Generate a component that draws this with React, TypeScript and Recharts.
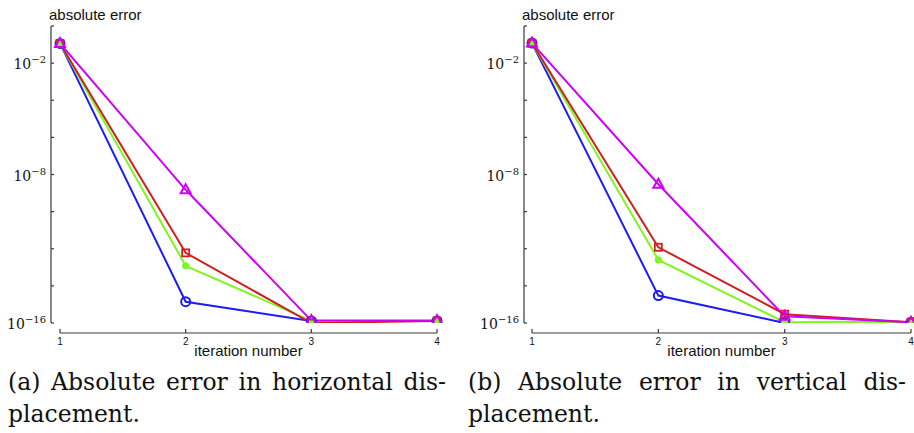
import React from "react";
import * as Recharts from "recharts";
import { LineChart, Line, XAxis, YAxis } from "recharts";

// iteration numbers on the x axis
const iterations = [1, 2, 3, 4];

// (a) horizontal displacement
const horizBlue = [1.15e-1, 1.4e-15, 1.3e-16, 1.3e-16];
const horizGreen = [1.15e-1, 1.2e-13, 1.3e-16, 1.3e-16];
const horizRed = [1.15e-1, 6e-13, 1.0e-16, 1.3e-16];
const horizMagenta = [1.15e-1, 1.5e-9, 1.35e-16, 1.35e-16];

// (b) vertical displacement
const vertBlue = [1.2e-1, 3e-15, 1.0e-16, 1.1e-16];
const vertGreen = [1.2e-1, 2.5e-13, 1.1e-16, 1.1e-16];
const vertRed = [1.2e-1, 1.2e-12, 3e-16, 1.1e-16];
const vertMagenta = [1.2e-1, 3e-9, 2.3e-16, 1.1e-16];

// y ticks every two decades, only some carry a label
const yTicks = [1, 1e-2, 1e-4, 1e-6, 1e-8, 1e-10, 1e-12, 1e-14, 1e-16];
const yLabelled = [-2, -8, -16];

const captionA = ["(a) Absolute error in horizontal dis-", "placement."];
const captionB = ["(b) Absolute error in vertical dis-", "placement."];

const AXIS = "#3a3a3a";
const BLUE = "#1c1cf5";
const GREEN = "#80f523";
const RED = "#cf2020";
const MAGENTA = "#cf00f5";
const SANS = "'Liberation Sans', Arial, sans-serif";
const SERIF = "'DejaVu Serif', 'Liberation Serif', serif";

const X_GAP = 10; // x axis sits below the plot, MATLAB style

const usePlotAreaHook = (Recharts as any).usePlotArea;

function XAxisLine({ padLeft }: { padLeft: number }) {
    const area = usePlotAreaHook ? usePlotAreaHook() : null;
    if (!area) return null;
    const y = area.y + area.height + X_GAP;
    return (
        <line x1={area.x + padLeft} x2={area.x + area.width} y1={y} y2={y} stroke={AXIS} strokeWidth={1.2} />
    );
}

const XTick = (props: any) => {
    const { x, y, payload } = props;
    return (
        <g>
            <line x1={x} x2={x} y1={y + X_GAP - 4} y2={y + X_GAP} stroke={AXIS} strokeWidth={1.2} />
            <text x={x} y={y + 22} textAnchor="middle" fontSize={10} fontFamily={SANS} fill="#111">
                {payload.value}
            </text>
        </g>
    );
};

const YTick = (props: any) => {
    const { x, y, payload } = props;
    const exp = Math.round(Math.log10(payload.value));
    return (
        <g>
            <line x1={x} x2={x + 3} y1={y} y2={y} stroke={AXIS} strokeWidth={1.2} />
            {yLabelled.includes(exp) && (
                <text x={x - 5} y={y + 6} textAnchor="end" fontFamily={SERIF} fill="#111">
                    <tspan fontSize={14}>10</tspan>
                    <tspan fontSize={10} dy={-6}>{"\u2212" + Math.abs(exp)}</tspan>
                </text>
            )}
        </g>
    );
};

const circleDot = (p: any) => (
    <circle key={`c${p.index}`} cx={p.cx} cy={p.cy} r={4.5} fill="none" stroke={BLUE} strokeWidth={2} />
);
const filledDot = (p: any) => (
    <circle key={`f${p.index}`} cx={p.cx} cy={p.cy} r={3.2} fill={GREEN} stroke={GREEN} strokeWidth={1} />
);
const squareDot = (p: any) => (
    <rect key={`s${p.index}`} x={p.cx - 3.5} y={p.cy - 3.5} width={7} height={7} fill="none" stroke={RED} strokeWidth={1.8} />
);
const triangleDot = (p: any) => (
    <polygon
        key={`t${p.index}`}
        points={`${p.cx},${p.cy - 5.5} ${p.cx - 5},${p.cy + 3.5} ${p.cx + 5},${p.cy + 3.5}`}
        fill="none"
        stroke={MAGENTA}
        strokeWidth={2}
    />
);

type PanelProps = {
    left: number;
    plotLeft: number;
    plotRight: number;
    padLeft: number;
    blue: number[];
    green: number[];
    red: number[];
    magenta: number[];
    caption: string[];
    captionLeft: number;
};

const W = 457;
const H = 365;

const Panel: React.FC<PanelProps> = (p) => {
    const data = iterations.map((it, i) => ({
        iter: it,
        blue: p.blue[i],
        green: p.green[i],
        red: p.red[i],
        magenta: p.magenta[i],
    }));
    return (
        <>
            <div style={{ position: "absolute", left: p.left, top: 0, width: W, height: H }}>
                <LineChart
                    width={W}
                    height={H}
                    data={data}
                    margin={{ top: 26, right: W - p.plotRight, left: p.plotLeft - 10, bottom: 0 }}
                >
                    <XAxis
                        dataKey="iter"
                        type="number"
                        domain={[1, 4]}
                        ticks={iterations}
                        interval={0}
                        padding={{ left: p.padLeft, right: 0 }}
                        axisLine={false}
                        tickLine={false}
                        tickSize={0}
                        tickMargin={0}
                        height={H - 323}
                        tick={<XTick />}
                        label={{
                            value: "iteration number",
                            position: "insideBottom",
                            offset: 9,
                            dx: p.padLeft / 2,
                            fontSize: 15,
                            fontFamily: SANS,
                            fill: "#111",
                        }}
                    />
                    <YAxis
                        type="number"
                        scale="log"
                        domain={[1e-16, 1]}
                        allowDataOverflow
                        ticks={yTicks}
                        interval={0}
                        width={10}
                        axisLine={{ stroke: AXIS, strokeWidth: 1.2 }}
                        tickLine={false}
                        tickSize={0}
                        tickMargin={0}
                        tick={<YTick />}
                    />
                    <Line dataKey="blue" stroke={BLUE} strokeWidth={2} dot={circleDot} isAnimationActive={false} />
                    <Line dataKey="green" stroke={GREEN} strokeWidth={2} dot={filledDot} isAnimationActive={false} />
                    <Line dataKey="red" stroke={RED} strokeWidth={2} dot={squareDot} isAnimationActive={false} />
                    <Line dataKey="magenta" stroke={MAGENTA} strokeWidth={2} dot={triangleDot} isAnimationActive={false} />
                    <XAxisLine padLeft={p.padLeft} />
                </LineChart>
            </div>
            <div
                style={{
                    position: "absolute",
                    left: p.left + p.plotLeft - 2,
                    top: 6,
                    fontFamily: SANS,
                    fontSize: 15,
                    color: "#111",
                    whiteSpace: "nowrap",
                }}
            >
                absolute error
            </div>
            <div
                style={{
                    position: "absolute",
                    left: p.captionLeft,
                    top: 366,
                    width: 438,
                    fontFamily: SERIF,
                    fontSize: 23.5,
                    lineHeight: "32px",
                    color: "#111",
                    whiteSpace: "nowrap",
                }}
            >
                {/* first caption line is justified to the full column width */}
                <div style={{ display: "flex", justifyContent: "space-between" }}>
                    {p.caption[0].split(" ").map((w, i) => (
                        <span key={i} style={{ flexShrink: 0 }}>{w}</span>
                    ))}
                </div>
                <div>{p.caption[1]}</div>
            </div>
        </>
    );
};

export default function App() {
    return (
        <div style={{ position: "absolute", left: 0, top: 0, width: 914, height: 433, background: "#fff" }}>
            <Panel
                left={0}
                plotLeft={51}
                plotRight={437}
                padLeft={9}
                blue={horizBlue}
                green={horizGreen}
                red={horizRed}
                magenta={horizMagenta}
                caption={captionA}
                captionLeft={8}
            />
            <Panel
                left={457}
                plotLeft={67}
                plotRight={454}
                padLeft={8}
                blue={vertBlue}
                green={vertGreen}
                red={vertRed}
                magenta={vertMagenta}
                caption={captionB}
                captionLeft={468}
            />
        </div>
    );
}
